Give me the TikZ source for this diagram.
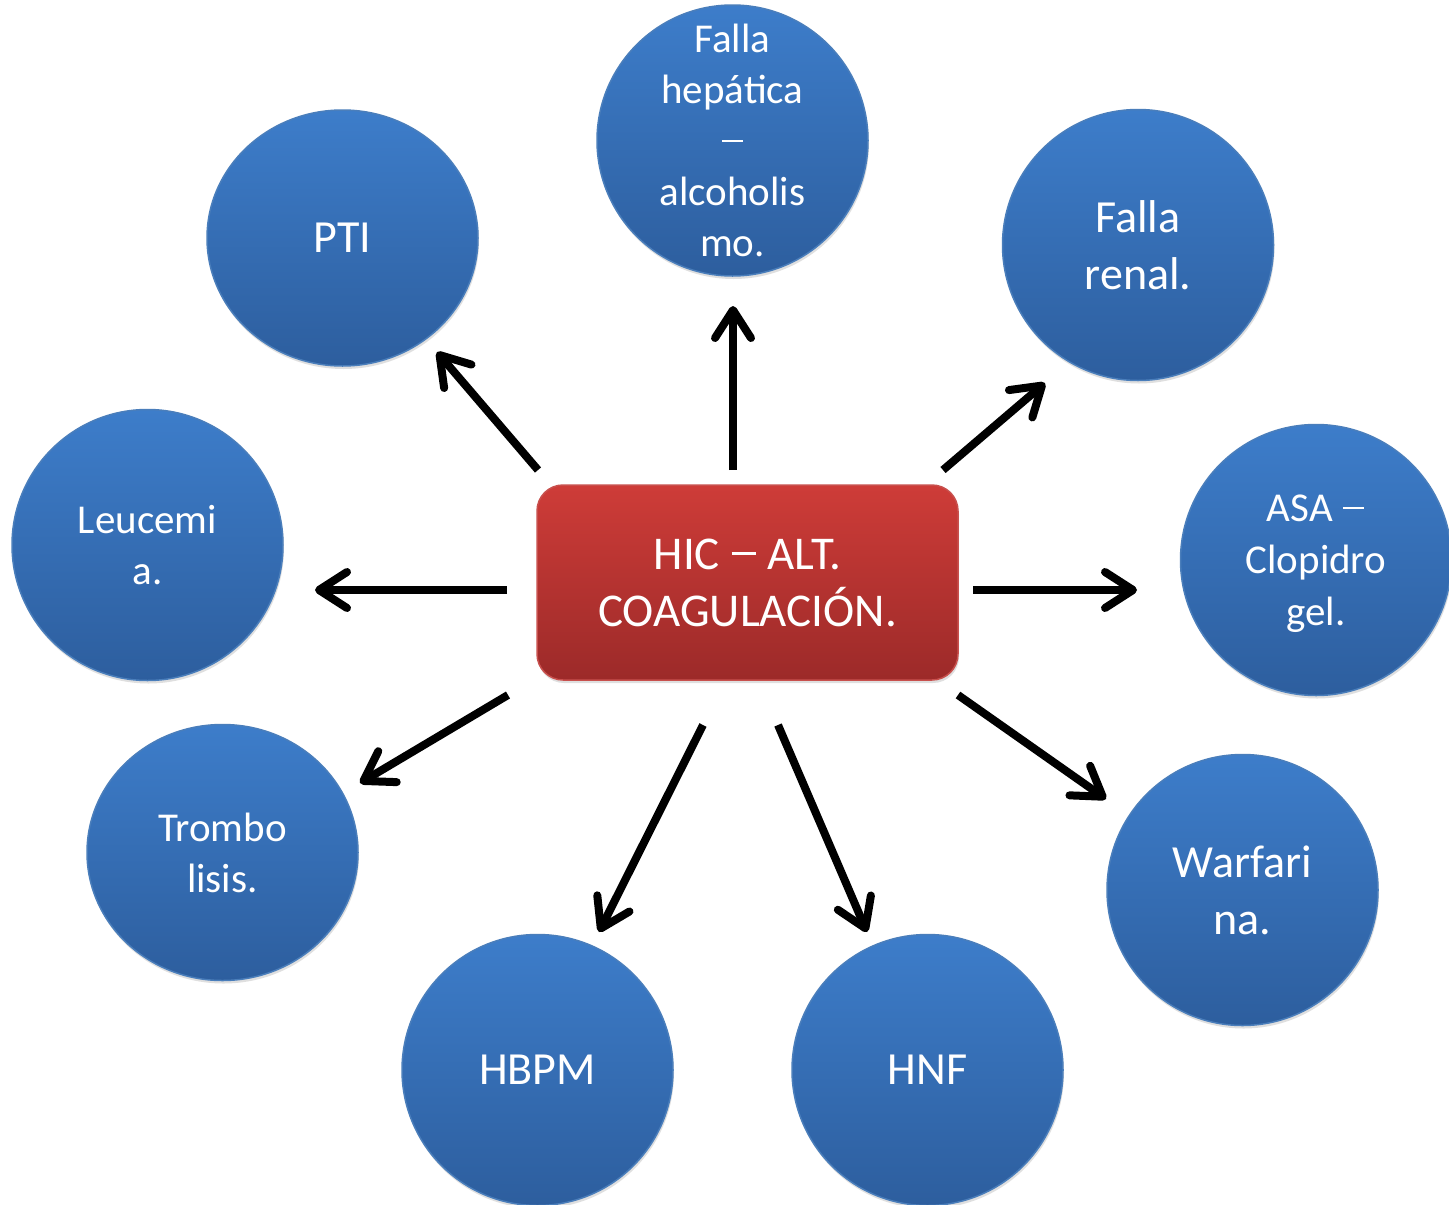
\documentclass[tikz,border=0pt]{standalone}
\usepackage{fontspec}
\setmainfont{Carlito}
\usetikzlibrary{arrows.meta,shapes.geometric,shadows}
\definecolor{btop}{HTML}{3D7DCA}
\definecolor{bbot}{HTML}{2D5E9E}
\definecolor{bedge}{HTML}{4A7EBB}
\definecolor{rtop}{HTML}{CE3C38}
\definecolor{rbot}{HTML}{9C2A29}
\definecolor{redge}{HTML}{C8504D}
\newcommand\longdash{\kern0.02em\rule[0.30em]{0.52em}{0.065em}\kern0.02em}
\begin{document}
\begin{tikzpicture}[x=1pt,y=-1pt,
  bub/.style={ellipse, draw=bedge, line width=1.5pt, top color=btop, bottom color=bbot,
    minimum width=271pt, minimum height=271pt, inner sep=0pt,
    drop shadow={opacity=0.25, shadow xshift=1pt, shadow yshift=-3pt}},
  txt/.style={text=white, align=center, inner sep=0pt},
  bigtxt/.style={txt, font=\fontsize{46}{57}\selectfont},
  smalltxt/.style={txt, font=\fontsize{41}{51}\selectfont},
  asatxt/.style={txt, font=\fontsize{41}{52}\selectfont, yshift=-4pt},
  hicbox/.style={rectangle, rounded corners=26pt, draw=redge, line width=1.5pt,
    top color=rtop, bottom color=rbot, minimum width=421pt, minimum height=195pt,
    text=white, align=center, font=\fontsize{47}{57}\selectfont,
    drop shadow={opacity=0.25, shadow xshift=1pt, shadow yshift=-3pt}},
  arr/.style={line width=8pt, -{Straight Barb[length=28pt,width=36pt,round]}}]
\useasboundingbox[fill=white] (0,0) rectangle (1449,1205);

\node[hicbox] (hic) at (747.5,582.5) {HIC \longdash{} ALT.\\COAGULACIÓN.};

\node[bub,minimum height=256pt,label={[bigtxt]center:PTI}] (pti) at (342.5,238) {};
\node[bub,label={[smalltxt]center:Falla\\hepática\\\longdash\\alcoholis\\mo.}] (hep) at (732.5,140.5) {};
\node[bub,label={[bigtxt]center:Falla\\renal.}] (ren) at (1138,245) {};
\node[bub,label={[smalltxt]center:Leucemi\\a.}] (leu) at (147.5,545) {};
\node[bub,label={[asatxt]center:ASA \longdash\\Clopidro\\gel.}] (asa) at (1316,560) {};
\node[bub,minimum height=256pt,label={[smalltxt]center:Trombo\\lisis.}] (tro) at (222.5,852.5) {};
\node[bub,label={[bigtxt]center:HBPM}] (hbpm) at (537.5,1070) {};
\node[bub,label={[bigtxt]center:HNF}] (hnf) at (927.5,1070) {};
\node[bub,label={[bigtxt]center:Warfari\\na.}] (war) at (1242.5,890) {};

\coordinate (s1) at (733,470);  \coordinate (e1) at (733,306);
\coordinate (s2) at (538,470);  \coordinate (e2) at (437,352);
\coordinate (s3) at (943,470);  \coordinate (e3) at (1045,383);
\coordinate (s4) at (507,590);  \coordinate (e4) at (315,590);
\coordinate (s5) at (973,590);  \coordinate (e5) at (1137,590);
\coordinate (s6) at (508,695);  \coordinate (e6) at (360,783);
\coordinate (s7) at (703,725);  \coordinate (e7) at (599,932);
\coordinate (s8) at (778,725);  \coordinate (e8) at (867,932);
\coordinate (s9) at (958,695);  \coordinate (e9) at (1106,799);

\foreach \i in {1,...,9} {\draw[arr] (s\i) -- (e\i);}
\end{tikzpicture}
\end{document}
